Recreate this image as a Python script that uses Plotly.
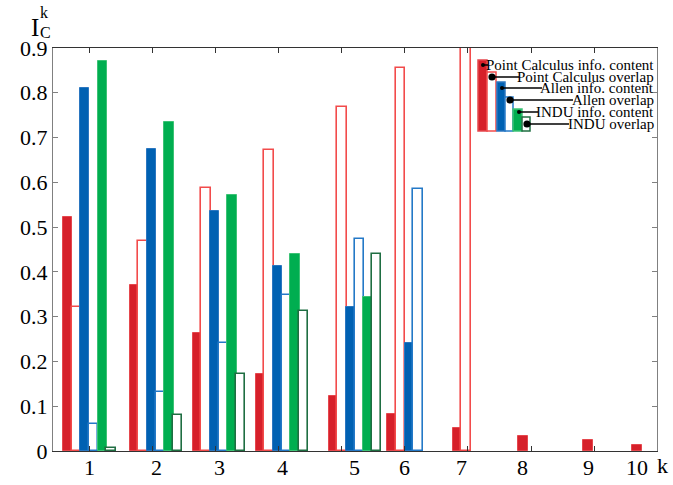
import plotly.graph_objects as go

# ---- data -----------------------------------------------------------------
K = list(range(1, 11))
K_LABELS = [str(k) for k in K]

PC_INFO = [0.523, 0.371, 0.263, 0.172, 0.122, 0.082, 0.051, 0.033, 0.024, 0.014]
PC_OVERLAP = [0.322, 0.469, 0.587, 0.672, 0.768, 0.856, 0.95]
ALLEN_INFO = [0.810, 0.674, 0.536, 0.413, 0.322, 0.242]
ALLEN_OVERLAP = [0.061, 0.131, 0.241, 0.349, 0.473, 0.585]
INDU_INFO = [0.871, 0.734, 0.572, 0.440, 0.343]
INDU_OVERLAP = [0.007, 0.081, 0.171, 0.313, 0.441]

SERIES_NAMES = [
    "Point Calculus info. content",
    "Point Calculus overlap",
    "Allen info. content",
    "Allen overlap",
    "INDU info. content",
    "INDU overlap",
]

Y_TICKS = [0, 0.1, 0.2, 0.3, 0.4, 0.5, 0.6, 0.7, 0.8, 0.9]

# ---- layout ---------------------------------------------------------------
W, H = 673, 485
MARGIN = dict(l=53, r=16, t=48, b=34)
FONT = "Liberation Serif"

# group centres on the x axis (the original places them by hand)
GROUP_X = [0.987, 2.048, 3.048, 4.048, 5.206, 6.0, 6.897, 7.873, 8.905, 9.683]
X_RANGE = [0.413, 10.0]
BAR_STEP = 0.1376
BAR_W = 0.148

# (fill, edge, filled?)
STYLES = [
    ("#d6202a", "#e5474d", True),
    ("white", "#f24b4b", False),
    ("#0061b2", "#2a76c0", True),
    ("white", "#2479c7", False),
    ("#00ae50", "#3cc275", True),
    ("white", "#1f6e42", False),
]


def px(x, y):
    """Pixel position in the window -> paper coordinates."""
    pw = W - MARGIN["l"] - MARGIN["r"]
    ph = H - MARGIN["t"] - MARGIN["b"]
    return (x - MARGIN["l"]) / pw, (H - MARGIN["b"] - y) / ph


series = [PC_INFO, PC_OVERLAP, ALLEN_INFO, ALLEN_OVERLAP, INDU_INFO, INDU_OVERLAP]
n_in_group = [sum(len(v) > i for v in series) for i in range(len(K))]

fig = go.Figure()
for s, (vals, (fill, edge, filled)) in enumerate(zip(series, STYLES)):
    xs = [GROUP_X[i] + (s - (n_in_group[i] - 1) / 2) * BAR_STEP
          for i in range(len(vals))]
    fig.add_trace(go.Bar(
        x=xs, y=vals, width=BAR_W,
        name=SERIES_NAMES[s],
        marker=dict(color=fill, line=dict(color=edge, width=1 if filled else 1.6)),
        showlegend=False,
    ))

# ---- hand-drawn legend (mini bar chart with leader lines) -----------------
LEG_BARS = [(478, 487, 60), (487, 496, 72), (497, 505, 82),
            (505, 513, 97), (513, 522, 109), (522, 530, 117)]
LEG_BOTTOM = 131
LEG_DOTS = [(483, 65, 2), (492, 77, 3.6), (502, 88, 2),
            (510, 100, 3.6), (519, 112, 2), (527, 124, 3.6)]
LEG_TEXT_RIGHT = 656
LEG_TEXT_START = [488, 519, 542, 573, 538, 569]

shapes = []
annotations = []
for (x0, x1, top), (fill, edge, filled) in zip(LEG_BARS, STYLES):
    a0, b0 = px(x0, LEG_BOTTOM)
    a1, b1 = px(x1, top)
    shapes.append(dict(type="rect", xref="paper", yref="paper",
                       x0=a0, x1=a1, y0=b0, y1=b1, fillcolor=fill,
                       line=dict(color=edge, width=1.5)))
for (dx, dy, r), x_end, name in zip(LEG_DOTS, LEG_TEXT_START, SERIES_NAMES):
    a0, b0 = px(dx, dy)
    a1, _ = px(x_end, dy)
    shapes.append(dict(type="line", xref="paper", yref="paper",
                       x0=a0, x1=a1, y0=b0, y1=b0,
                       line=dict(color="black", width=1.5)))
    c0, d0 = px(dx - r, dy + r)
    c1, d1 = px(dx + r, dy - r)
    shapes.append(dict(type="circle", xref="paper", yref="paper",
                       x0=c0, x1=c1, y0=d0, y1=d1, fillcolor="black",
                       line=dict(color="black", width=0)))
    tx, ty = px(LEG_TEXT_RIGHT, dy)
    annotations.append(dict(xref="paper", yref="paper", x=tx, y=ty,
                            text=name, showarrow=False, xanchor="right",
                            yanchor="middle", font=dict(size=15, color="black")))

# k labels sit under the group centres, not under the axis ticks
_, label_y = px(0, 467)
for gx, lab in zip(GROUP_X, K_LABELS):
    annotations.append(dict(xref="x", yref="paper", x=gx, y=label_y, text=lab,
                            showarrow=False, xanchor="center", yanchor="middle",
                            font=dict(size=22, color="black")))

# axis title I_C^k and the trailing "k" on the x axis
for txt, (x, y), size in [("I", (34.5, 28), 25), ("k", (44, 12), 16),
                          ("C", (45, 32), 16), ("k", (662, 465), 22)]:
    a, b = px(x, y)
    annotations.append(dict(xref="paper", yref="paper", x=a, y=b, text=txt,
                            showarrow=False, xanchor="center", yanchor="middle",
                            font=dict(size=size, color="black")))

fig.update_layout(
    width=W, height=H,
    margin=dict(MARGIN, autoexpand=False),
    barmode="overlay",
    bargap=0,
    plot_bgcolor="white",
    paper_bgcolor="white",
    font=dict(family=FONT, color="black"),
    shapes=shapes,
    annotations=annotations,
    xaxis=dict(
        range=X_RANGE, tickmode="array", tickvals=K, showticklabels=False,
        ticks="inside", ticklen=5, tickcolor="#333", tickwidth=1,
        automargin=False,
        showline=True, linecolor="#333", linewidth=1.2, mirror="ticks",
        showgrid=False, zeroline=False,
    ),
    yaxis=dict(
        range=[0, 0.9], tickmode="array", tickvals=Y_TICKS,
        ticktext=["0"] + ["{:.1f}".format(v) for v in Y_TICKS[1:]],
        ticks="inside", ticklen=5, tickcolor="#808080", automargin=False,
        tickfont=dict(size=22, color="black"),
        showline=True, linecolor="#808080", linewidth=1.2, mirror="ticks",
        showgrid=False, zeroline=False,
    ),
)

fig.write_html("out.html", config=dict(displayModeBar=False),
               post_script="document.body.style.margin = '0';")
